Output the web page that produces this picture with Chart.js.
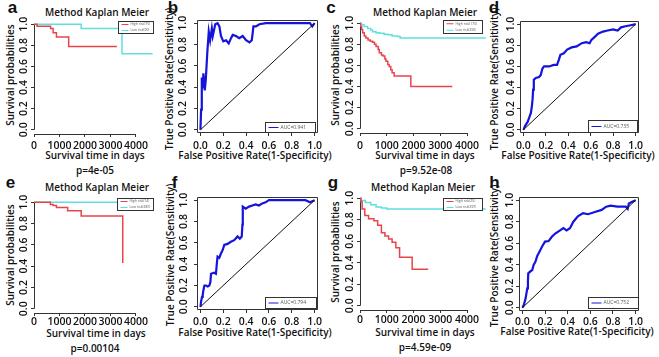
<!DOCTYPE html>
<html lang="en">
<head>
<meta charset="UTF-8">
<title>Kaplan Meier and ROC panels</title>
<script src="https://cdn.jsdelivr.net/npm/chart.js"></script>
<style>
  body { margin: 0; background: #fff; }
  #fig { position: relative; width: 659px; height: 357px; overflow: hidden; font-family: "Open Sans", sans-serif; color: #111; }
  #fig canvas { position: absolute; }
  .t { position: absolute; white-space: nowrap; transform: translate(-50%, -50%); font-size: 10px; font-weight: 600; line-height: 12px; }
  .r { position: absolute; white-space: nowrap; transform: translate(-50%, -50%) rotate(-90deg); font-size: 10px; font-weight: 600; line-height: 12px; }
  .lt { position: absolute; white-space: nowrap; transform: translate(-50%, -50%); font: bold 17px "Liberation Sans", Arial, sans-serif; line-height: 17px; }
</style>
</head>
<body>
<div id="fig"></div>
<script>
// ---- data ----
const kmTicks = [0, 1000, 2000, 3000, 4000];
const probTicks = [0, 0.2, 0.4, 0.6, 0.8, 1.0];

// a
const aHighTime = [0, 120, 650, 750, 880, 1360, 3250];
const aHighSurv = [1, 0.98, 0.96, 0.92, 0.88, 0.79, 0.79];
const aLowTime = [0, 1850, 3450, 4650];
const aLowSurv = [1, 0.96, 0.72, 0.72];

// b  (AUC=0.941)
const bFpr = [0, 0.006, 0.012, 0.02, 0.026, 0.038, 0.047, 0.06, 0.073, 0.085, 0.1, 0.108, 0.13, 0.15, 0.166, 0.18, 0.2, 0.225, 0.248, 0.268, 0.283, 0.312, 0.34, 0.37, 0.4, 0.43, 0.45, 0.458, 0.464, 0.487, 0.516, 0.574, 0.633, 0.75, 0.9, 0.96, 0.98, 1];
const bTpr = [0, 0.19, 0.49, 0.39, 0.53, 0.37, 0.47, 0.72, 0.92, 0.84, 0.95, 0.88, 0.99, 1, 0.97, 0.88, 0.83, 0.84, 0.81, 0.86, 0.89, 0.88, 0.86, 0.88, 0.84, 0.82, 0.84, 0.91, 0.97, 0.97, 0.99, 1, 1, 1, 1, 1, 0.97, 1];

// c
const cHighTime = [0, 20, 60, 100, 160, 220, 300, 380, 470, 540, 600, 680, 720, 800, 860, 930, 970, 1040, 1090, 1150, 1200, 1275, 1900, 3450];
const cHighSurv = [1, 0.97, 0.94, 0.91, 0.88, 0.86, 0.84, 0.83, 0.82, 0.8, 0.78, 0.75, 0.72, 0.7, 0.69, 0.66, 0.64, 0.61, 0.59, 0.56, 0.53, 0.5, 0.4, 0.4];
const cLowTime = [0, 50, 150, 285, 400, 470, 600, 720, 900, 1030, 1200, 1400, 1500, 4700];
const cLowSurv = [1, 0.985, 0.97, 0.95, 0.935, 0.92, 0.91, 0.905, 0.895, 0.89, 0.88, 0.875, 0.86, 0.86];

// d  (AUC=0.735)
const dFpr = [0, 0.017, 0.038, 0.052, 0.067, 0.076, 0.082, 0.087, 0.093, 0.11, 0.14, 0.155, 0.17, 0.184, 0.23, 0.27, 0.3, 0.315, 0.33, 0.36, 0.39, 0.43, 0.475, 0.52, 0.56, 0.59, 0.606, 0.636, 0.665, 0.71, 0.75, 0.8, 0.84, 0.87, 0.91, 0.956, 1];
const dTpr = [0, 0.04, 0.075, 0.115, 0.16, 0.225, 0.29, 0.38, 0.475, 0.49, 0.5, 0.52, 0.58, 0.6, 0.6, 0.615, 0.615, 0.66, 0.71, 0.725, 0.76, 0.78, 0.79, 0.82, 0.83, 0.82, 0.85, 0.88, 0.91, 0.93, 0.94, 0.95, 0.94, 0.97, 0.98, 0.99, 1];

// e
const eHighTime = [0, 640, 750, 880, 1320, 1850, 3480];
const eHighSurv = [1, 0.98, 0.97, 0.95, 0.92, 0.87, 0.43];
const eLowTime = [0, 4680];
const eLowSurv = [1, 1];

// f  (AUC=0.794)
const fFpr = [0, 0.006, 0.014, 0.02, 0.026, 0.035, 0.049, 0.064, 0.078, 0.087, 0.093, 0.12, 0.136, 0.145, 0.15, 0.165, 0.18, 0.194, 0.209, 0.238, 0.267, 0.296, 0.325, 0.345, 0.362, 0.368, 0.371, 0.397, 0.426, 0.455, 0.484, 0.513, 0.542, 0.571, 0.6, 0.658, 0.745, 0.803, 0.86, 0.92, 0.96, 1];
const fTpr = [0, 0.05, 0.094, 0.11, 0.156, 0.2, 0.2, 0.19, 0.2, 0.23, 0.31, 0.32, 0.31, 0.42, 0.47, 0.46, 0.5, 0.53, 0.58, 0.59, 0.61, 0.625, 0.66, 0.64, 0.66, 0.77, 0.94, 0.92, 0.94, 0.95, 0.96, 0.95, 0.97, 0.98, 1, 1, 1, 1, 1, 1, 0.98, 1];

// g
const gHighTime = [0, 30, 80, 180, 320, 520, 660, 800, 930, 1070, 1200, 1340, 1480, 1950, 2550];
const gHighSurv = [1, 0.97, 0.9, 0.84, 0.81, 0.79, 0.75, 0.68, 0.65, 0.62, 0.59, 0.54, 0.45, 0.34, 0.34];
const gLowTime = [0, 50, 200, 400, 600, 800, 1000, 4700];
const gLowSurv = [1, 0.98, 0.96, 0.94, 0.92, 0.91, 0.9, 0.9];

// h  (AUC=0.752)
const hFpr = [0, 0.014, 0.029, 0.043, 0.049, 0.052, 0.072, 0.087, 0.1, 0.116, 0.13, 0.145, 0.174, 0.2, 0.232, 0.26, 0.29, 0.333, 0.362, 0.39, 0.42, 0.45, 0.49, 0.536, 0.58, 0.64, 0.7, 0.74, 0.78, 0.84, 0.913, 0.93, 0.94, 0.97, 1];
const hTpr = [0, 0.03, 0.09, 0.18, 0.25, 0.32, 0.34, 0.35, 0.4, 0.43, 0.48, 0.51, 0.57, 0.615, 0.62, 0.66, 0.69, 0.72, 0.74, 0.72, 0.74, 0.8, 0.85, 0.88, 0.87, 0.89, 0.91, 0.94, 0.95, 0.94, 0.94, 0.92, 0.97, 0.985, 1];

const kmTitle = 'Method Kaplan Meier';
const kmXTitle = 'Survival time in days';
const kmYTitle = 'Survival probabilities';
const rocXTitle = 'False Positive Rate(1-Specificity)';
const rocYTitle = 'True Positive Rate(Sensitivity)';

const RED = '#e8444b';
const CYAN = '#5fe0e0';
const BLUE = '#1414dc';
const INK = '#333';

// ---- panels ----
// box: canvas [x, y, w, h]; area: plot region [left, right, top, bottom]
const panels = [
  { type: 'km', box: [0, 0, 165, 175], area: [34, 158, 20, 134], xMax: 4863, yPad: 0, xPad: 3,
    lines: [[aHighTime, aHighSurv, RED], [aLowTime, aLowSurv, CYAN]],
    legend: { w: 35, h: 12, dx: 5, dy: 1, items: [['High risk(75)', RED], ['Low risk(90)', CYAN]] } },
  { type: 'roc', box: [163, 0, 170, 175], area: [197, 318, 20, 133], yPad: 4, xPad: 4,
    lines: [[bFpr, bTpr, BLUE]], legend: { w: 50, h: 10, dx: 3, dy: 1, items: [['AUC=0.941', BLUE]] } },
  { type: 'km', box: [328, 0, 170, 175], area: [360, 491, 19, 133], xMax: 4897, yPad: 0, xPad: 4,
    lines: [[cHighTime, cHighSurv, RED], [cLowTime, cLowSurv, CYAN]],
    legend: { w: 39, h: 13, dx: 9, dy: 1, items: [['High risk(175)', RED], ['Low risk(350)', CYAN]] } },
  { type: 'roc', box: [493, 0, 166, 175], area: [520, 639, 21, 133], yPad: -1, xPad: 4,
    lines: [[dFpr, dTpr, BLUE]], legend: { w: 49, h: 12, dx: 2, dy: 1, items: [['AUC=0.735', BLUE]] } },
  { type: 'km', box: [0, 175, 165, 182], area: [34, 158, 198, 313], xMax: 4863, yPad: 0, xPad: 0,
    lines: [[eHighTime, eHighSurv, RED], [eLowTime, eLowSurv, CYAN]],
    legend: { w: 36, h: 12, dx: 5, dy: 0, items: [['High risk(74)', RED], ['Low risk(287)', CYAN]] } },
  { type: 'roc', box: [163, 175, 170, 182], area: [197, 318, 197, 310], yPad: 3, xPad: 3,
    lines: [[fFpr, fTpr, BLUE]], legend: { w: 51, h: 11, dx: 2, dy: 2, items: [['AUC=0.794', BLUE]] } },
  { type: 'km', box: [328, 175, 170, 182], area: [360, 491, 194, 310], xMax: 4897, yPad: 0, xPad: 1,
    lines: [[gHighTime, gHighSurv, RED], [gLowTime, gLowSurv, CYAN]],
    legend: { w: 39, h: 12, dx: 9, dy: 4, items: [['High risk(25)', RED], ['Low risk(397)', CYAN]] } },
  { type: 'roc', box: [493, 175, 166, 182], area: [519, 639, 197, 311], yPad: -1, xPad: 2,
    lines: [[hFpr, hTpr, BLUE]], legend: { w: 50, h: 11, dx: 1, dy: 3, items: [['AUC=0.752', BLUE]] } }
];

const texts = [
  ['lt', 'a', 12.5, 7], ['lt', 'b', 173, 7], ['lt', 'c', 331, 7], ['lt', 'd', 494, 7],
  ['lt', 'e', 10.5, 182], ['lt', 'f', 174.5, 182], ['lt', 'g', 333, 182], ['lt', 'h', 494.5, 182],
  ['t', kmTitle, 97, 12], ['t', kmTitle, 425, 12], ['t', kmTitle, 97, 187], ['t', kmTitle, 423, 187],
  ['r', kmYTitle, 10, 75], ['r', kmYTitle, 335, 75], ['r', kmYTitle, 10, 255], ['r', kmYTitle, 335, 252],
  ['r', rocYTitle, 169, 79], ['r', rocYTitle, 494, 79], ['r', rocYTitle, 170, 255], ['r', rocYTitle, 494, 256],
  ['t', kmXTitle, 95, 155], ['t', kmXTitle, 425, 155], ['t', kmXTitle, 96, 333], ['t', kmXTitle, 425, 332],
  ['t', rocXTitle, 255, 155], ['t', rocXTitle, 578, 155], ['t', rocXTitle, 255, 332], ['t', rocXTitle, 577, 331],
  ['t', 'p=4e-05', 95, 170], ['t', 'p=9.52e-08', 426, 170], ['t', 'p=0.00104', 95, 348], ['t', 'p=4.59e-09', 425, 347]
];

const fig = document.getElementById('fig');
texts.forEach(([cls, txt, x, y]) => {
  const d = document.createElement('div');
  d.className = cls;
  d.textContent = txt;
  d.style.left = x + 'px';
  d.style.top = y + 'px';
  fig.appendChild(d);
});

// R style axes: KM gets two axis lines spanning first..last tick, ROC gets a box
const rAxes = {
  id: 'rAxes',
  beforeDatasetsDraw(chart, args, opts) {
    const { ctx, chartArea: ca, scales: { x, y } } = chart;
    ctx.save();
    ctx.strokeStyle = INK;
    ctx.lineWidth = 1;
    ctx.beginPath();
    if (opts.box) {
      ctx.rect(Math.round(ca.left) + 0.5, Math.round(ca.top) + 0.5, Math.round(ca.width) - 1, Math.round(ca.height) - 1);
    } else {
      const xb = Math.round(ca.bottom) + 0.5, yl = Math.round(ca.left) + 0.5;
      ctx.moveTo(x.getPixelForValue(x.ticks[0].value), xb);
      ctx.lineTo(x.getPixelForValue(x.ticks[x.ticks.length - 1].value), xb);
      ctx.moveTo(yl, y.getPixelForValue(y.ticks[0].value));
      ctx.lineTo(yl, y.getPixelForValue(y.ticks[y.ticks.length - 1].value));
    }
    ctx.stroke();
    ctx.restore();
  },
  afterDatasetsDraw(chart, args, opts) {
    const lg = opts.legend;
    if (!lg) return;
    const { ctx, chartArea: ca } = chart;
    const bx = Math.round(ca.right - lg.dx - lg.w) + 0.5;
    const by = opts.box ? Math.round(ca.bottom - lg.dy - lg.h) + 0.5 : Math.round(ca.top + lg.dy) + 0.5;
    ctx.save();
    ctx.fillStyle = '#fff';
    ctx.fillRect(bx, by, lg.w, lg.h);
    ctx.strokeStyle = INK;
    ctx.lineWidth = 1;
    ctx.strokeRect(bx, by, lg.w, lg.h);
    const n = lg.items.length;
    const fs = opts.box ? 5 : 3.4;
    const seg = opts.box ? 10 : 7;
    ctx.font = fs + 'px "Open Sans", sans-serif';
    ctx.textBaseline = 'middle';
    lg.items.forEach(([label, color], i) => {
      const yy = by + lg.h * (i + 0.5) / n;
      ctx.strokeStyle = color;
      ctx.lineWidth = 1;
      ctx.beginPath();
      ctx.moveTo(bx + 3, yy);
      ctx.lineTo(bx + 3 + seg, yy);
      ctx.stroke();
      ctx.fillStyle = '#555';
      ctx.fillText(label, bx + 5 + seg, yy);
    });
    ctx.restore();
  }
};

const tickFont = { family: '"Open Sans", sans-serif', size: 10.5, weight: '600' };

panels.forEach(p => {
  const [bx, by, bw, bh] = p.box;
  const [al, ar, at, ab] = p.area;
  const cv = document.createElement('canvas');
  cv.width = bw;
  cv.height = bh;
  cv.style.left = bx + 'px';
  cv.style.top = by + 'px';
  fig.appendChild(cv);

  const km = p.type === 'km';
  const xTicks = km ? kmTicks : probTicks;
  const datasets = p.lines.map(([xs, ys, color]) => ({
    data: xs.map((v, i) => ({ x: v, y: ys[i] })),
    borderColor: color,
    borderWidth: km ? 1.5 : 2.2,
    stepped: km ? 'before' : false,
    pointRadius: 0,
    tension: 0
  }));
  if (!km) {
    datasets.unshift({ data: [{ x: 0, y: 0 }, { x: 1, y: 1 }], borderColor: '#111', borderWidth: 1, pointRadius: 0 });
  }

  new Chart(cv, {
    type: 'line',
    data: { datasets },
    options: {
      responsive: false,
      animation: false,
      layout: { padding: { left: 0, top: at - by, right: bx + bw - ar, bottom: 0 } },
      plugins: { legend: { display: false }, tooltip: { enabled: false }, rAxes: { box: !km, legend: p.legend } },
      scales: {
        x: {
          type: 'linear',
          min: km ? 0 : -0.03,
          max: km ? p.xMax : 1.03,
          afterBuildTicks: ax => { ax.ticks = xTicks.map(v => ({ value: v })); },
          afterFit: s => { s.height = by + bh - ab; },
          border: { display: false },
          grid: { drawOnChartArea: false, drawTicks: true, tickLength: 3, color: INK },
          ticks: { font: tickFont, color: '#111', padding: p.xPad, maxRotation: 0, minRotation: 0, autoSkip: false,
                   callback: v => km ? String(v) : v.toFixed(1) }
        },
        y: {
          type: 'linear',
          min: km ? -0.04 : -0.03,
          max: km ? 1.04 : 1.03,
          afterBuildTicks: ax => { ax.ticks = probTicks.map(v => ({ value: v })); },
          afterFit: s => { s.width = al - bx; },
          border: { display: false },
          grid: { drawOnChartArea: false, drawTicks: true, tickLength: 3, color: INK },
          ticks: { font: tickFont, color: '#111', padding: p.yPad, minRotation: 90, maxRotation: 90, crossAlign: 'center', autoSkip: false,
                   callback: v => v.toFixed(1) }
        }
      }
    },
    plugins: [rAxes]
  });
});
</script>
</body>
</html>
